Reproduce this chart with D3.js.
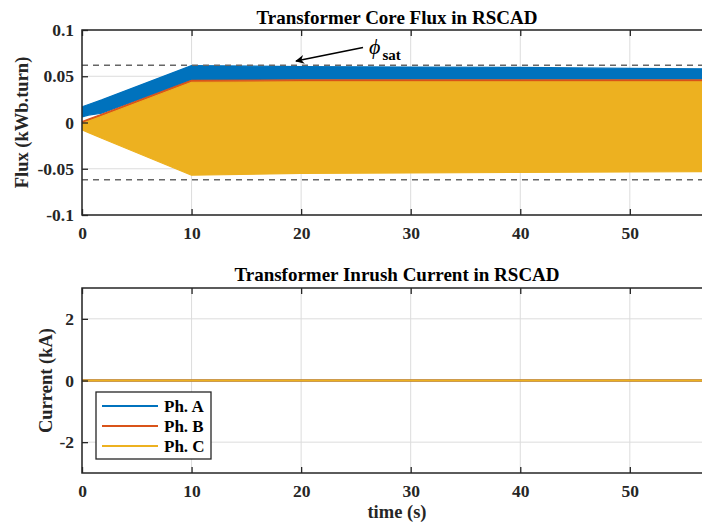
<!DOCTYPE html>
<html>
<head>
<meta charset="utf-8">
<script src="https://cdn.jsdelivr.net/npm/d3@7"></script>
<style>
  html, body { margin: 0; padding: 0; background: #fff; }
  svg { display: block; font-family: "Liberation Serif", "Times New Roman", serif; font-weight: bold; }
</style>
</head>
<body>
<svg id="chart" width="702" height="527"></svg>
<script>
// Phase names
const phases = ["Ph. A", "Ph. B", "Ph. C"];

// Core flux envelopes (kWb.turn): upper and lower bounds of each phase waveform
const fluxTime = [0, 0.6, 1.8, 10, 20, 30, 40, 50, 57.5];
const fluxAMax = [0.017, 0.0195, 0.0245, 0.0615, 0.0605, 0.0600, 0.0595, 0.0585, 0.0580];
const fluxAMin = [0.006, 0.008, 0.010, 0.046, 0.047, 0.047, 0.047, 0.047, 0.047];
const fluxBMax = [0.001, 0.0036, 0.0089, 0.0455, 0.0460, 0.0460, 0.0460, 0.0460, 0.0460];
const fluxBMin = [-0.004, -0.007, -0.013, -0.050, -0.049, -0.048, -0.048, -0.047, -0.047];
const fluxCMax = [-0.001, 0.0015, 0.0068, 0.0435, 0.0440, 0.0440, 0.0440, 0.0440, 0.0440];
const fluxCMin = [-0.008, -0.011, -0.017, -0.057, -0.055, -0.0545, -0.054, -0.0535, -0.053];

// Saturation flux level
const phiSat = 0.062;

// Inrush current (kA)
const currentTime = [0, 57.5];
const currentA = [0, 0];
const currentB = [0, 0];
const currentC = [0, 0];

// Tick values
const timeTicks = [0, 10, 20, 30, 40, 50];
const fluxTicks = [-0.1, -0.05, 0, 0.05, 0.1];
const currentTicks = [-2, 0, 2];

const colors = ["#0072BD", "#D95319", "#EDB120"];

const svg = d3.select("#chart");
const left = 82, right = 712;

const x = d3.scaleLinear().domain([0, 57.5]).range([left, right]);
const yFlux = d3.scaleLinear().domain([-0.1, 0.1]).range([215, 30]);
const yCur = d3.scaleLinear().domain([-3, 3]).range([473, 288]);

const defs = svg.append("defs");
defs.append("clipPath").attr("id", "clipTop")
  .append("rect").attr("x", left).attr("y", 30).attr("width", right - left).attr("height", 185);
defs.append("clipPath").attr("id", "clipBot")
  .append("rect").attr("x", left).attr("y", 288).attr("width", right - left).attr("height", 185);

// MATLAB-style hyphen minus in tick labels
const hyphen = s => s.replace("\u2212", "-");

function drawGrid(y, yTicks, top, bottom) {
  const g = svg.append("g");
  g.selectAll("line.gx").data(timeTicks).join("line")
    .attr("x1", d => x(d)).attr("x2", d => x(d))
    .attr("y1", top).attr("y2", bottom)
    .attr("stroke", "#dcdcdc").attr("stroke-width", 1);
  g.selectAll("line.gy").data(yTicks).join("line")
    .attr("x1", left).attr("x2", right)
    .attr("y1", d => y(d)).attr("y2", d => y(d))
    .attr("stroke", "#dcdcdc").attr("stroke-width", 1);
}

function drawFrame(y, yTicks, fmt, top, bottom) {
  const g = svg.append("g");
  const tickLen = 6;
  const xAxis = d3.axisBottom(x).tickValues(timeTicks).tickSize(-tickLen).tickPadding(12).tickFormat(d3.format("d"));
  const gx = g.append("g").attr("transform", `translate(0,${bottom})`).call(xAxis);
  gx.select(".domain").remove();
  gx.selectAll("line").attr("stroke", "#262626").attr("stroke-width", 1.3);
  gx.selectAll("text").attr("font-size", 17.5).attr("font-family", "Liberation Serif").attr("font-weight", "bold").attr("fill", "#262626");
  const xAxisTop = d3.axisTop(x).tickValues(timeTicks).tickSize(-tickLen).tickFormat("");
  const gxt = g.append("g").attr("transform", `translate(0,${top})`).call(xAxisTop);
  gxt.select(".domain").remove();
  gxt.selectAll("line").attr("stroke", "#262626").attr("stroke-width", 1.3);

  const yAxis = d3.axisLeft(y).tickValues(yTicks).tickSize(-tickLen).tickPadding(8).tickFormat(d => hyphen(fmt(d)));
  const gy = g.append("g").attr("transform", `translate(${left},0)`).call(yAxis);
  gy.select(".domain").remove();
  gy.selectAll("line").attr("stroke", "#262626").attr("stroke-width", 1.3);
  gy.selectAll("text").attr("font-size", 17.5).attr("font-family", "Liberation Serif").attr("font-weight", "bold").attr("fill", "#262626");

  g.append("rect").attr("x", left).attr("y", top).attr("width", right - left).attr("height", bottom - top)
    .attr("fill", "none").attr("stroke", "#262626").attr("stroke-width", 1.5);
}

// ---------- Top panel: core flux ----------
drawGrid(yFlux, fluxTicks, 30, 215);

const bands = [
  { max: fluxAMax, min: fluxAMin },
  { max: fluxBMax, min: fluxBMin },
  { max: fluxCMax, min: fluxCMin }
];
const area = d3.area()
  .x(d => x(d.t))
  .y0(d => yFlux(d.lo))
  .y1(d => yFlux(d.hi));

const gFlux = svg.append("g").attr("clip-path", "url(#clipTop)");
bands.forEach((b, i) => {
  const rows = fluxTime.map((t, k) => ({ t, hi: b.max[k], lo: b.min[k] }));
  gFlux.append("path").datum(rows)
    .attr("d", area)
    .attr("fill", colors[i])
    .attr("stroke", colors[i]).attr("stroke-width", 1.2).attr("stroke-linejoin", "round");
});

// saturation limits
[phiSat, -phiSat].forEach(v => {
  gFlux.append("line")
    .attr("x1", left).attr("x2", right)
    .attr("y1", yFlux(v)).attr("y2", yFlux(v))
    .attr("stroke", "#666").attr("stroke-width", 1.5).attr("stroke-dasharray", "6,5");
});

const fmtFlux = d => d === 0 ? "0" : (Math.abs(d) === 0.1 ? d3.format(".1f")(d) : d3.format(".2f")(d));
drawFrame(yFlux, fluxTicks, fmtFlux, 30, 215);

// phi_sat annotation
defs.append("marker").attr("id", "arrowHead")
  .attr("viewBox", "0 0 10 10").attr("refX", 9).attr("refY", 5)
  .attr("markerWidth", 14).attr("markerHeight", 9).attr("orient", "auto")
  .attr("markerUnits", "userSpaceOnUse")
  .append("path").attr("d", "M0,0 L10,5 L0,10 L3,5 Z").attr("fill", "#000");
svg.append("line")
  .attr("x1", 363).attr("y1", 47.5).attr("x2", 296).attr("y2", 61)
  .attr("stroke", "#000").attr("stroke-width", 1.6)
  .attr("marker-end", "url(#arrowHead)");
const phiLabel = svg.append("text").attr("x", 369).attr("y", 54).attr("fill", "#000");
phiLabel.append("tspan").text("\u03d5").attr("font-style", "italic").attr("font-weight", "normal").attr("font-size", 22);
phiLabel.append("tspan").text("sat").attr("font-size", 15).attr("dx", 2).attr("dy", 6);

svg.append("text").attr("x", (left + right) / 2).attr("y", 24).attr("text-anchor", "middle")
  .attr("font-size", 19).attr("fill", "#000").text("Transformer Core Flux in RSCAD");
svg.append("text").attr("transform", `translate(27.5,${(30 + 215) / 2}) rotate(-90)`)
  .attr("text-anchor", "middle").attr("font-size", 18.5).attr("fill", "#262626").text("Flux (kWb.turn)");

// ---------- Bottom panel: inrush current ----------
drawGrid(yCur, currentTicks, 288, 473);
const line = d3.line().x(d => x(d.t)).y(d => yCur(d.v));
const gCur = svg.append("g").attr("clip-path", "url(#clipBot)");
[currentA, currentB, currentC].forEach((vals, i) => {
  gCur.append("path").datum(currentTime.map((t, k) => ({ t, v: vals[k] })))
    .attr("d", line).attr("fill", "none").attr("stroke", colors[i]).attr("stroke-width", 2);
});
drawFrame(yCur, currentTicks, d3.format("d"), 288, 473);

svg.append("text").attr("x", (left + right) / 2).attr("y", 281).attr("text-anchor", "middle")
  .attr("font-size", 19).attr("fill", "#000").text("Transformer Inrush Current in RSCAD");
svg.append("text").attr("transform", `translate(51.5,${(288 + 473) / 2}) rotate(-90)`)
  .attr("text-anchor", "middle").attr("font-size", 18.5).attr("fill", "#262626").text("Current (kA)");
svg.append("text").attr("x", (left + right) / 2).attr("y", 518).attr("text-anchor", "middle")
  .attr("font-size", 18.5).attr("fill", "#262626").text("time (s)");

// legend
const lg = svg.append("g");
lg.append("rect").attr("x", 96).attr("y", 392).attr("width", 115).attr("height", 67)
  .attr("fill", "#fff").attr("stroke", "#262626").attr("stroke-width", 1.3);
phases.forEach((p, i) => {
  const yy = 406 + i * 20;
  lg.append("line").attr("x1", 102).attr("x2", 158).attr("y1", yy).attr("y2", yy)
    .attr("stroke", colors[i]).attr("stroke-width", 2);
  lg.append("text").attr("x", 164).attr("y", yy + 6).attr("font-size", 17).attr("fill", "#000").text(p);
});
</script>
</body>
</html>
